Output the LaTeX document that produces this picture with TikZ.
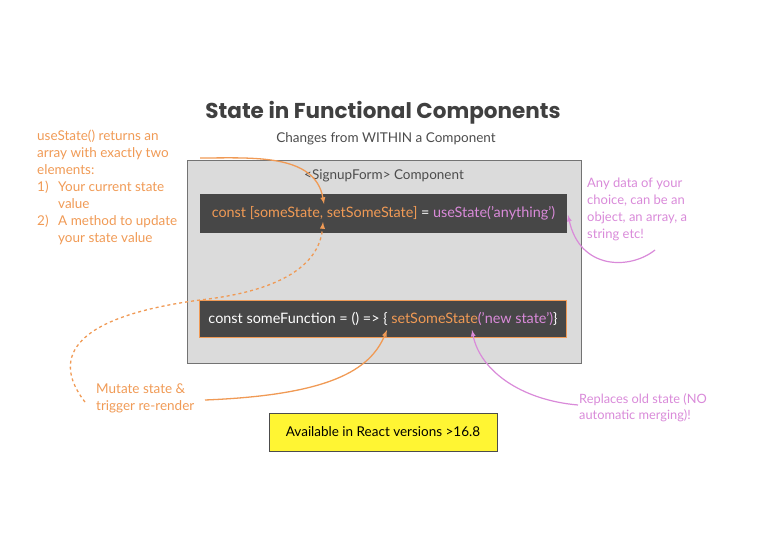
\documentclass[tikz,border=0pt]{standalone}
\usepackage{fontspec}
\setmainfont{Lato}
\newfontfamily\titlefont{Poppins}
\usetikzlibrary{positioning}
\definecolor{orn}{HTML}{F09A55}
\definecolor{pnk}{HTML}{D98AD9}
\definecolor{codebg}{HTML}{474747}
\newcommand\itemnum[1]{\makebox[21pt][l]{#1}}
\tikzset{
    note/.style={font=\fontsize{13.5}{17}\selectfont,align=left,inner sep=0pt,anchor=north west},
    codebox/.style={fill=codebg,minimum width=367pt,inner sep=0pt,font=\fontsize{14.4}{16}\selectfont},
    orarrow/.style={orn,line width=1.3pt,-latex},
    pkarrow/.style={pnk,line width=1.2pt,-latex}
}
\begin{document}
\begin{tikzpicture}[x=1pt,y=-1pt]
    \useasboundingbox (0,0) rectangle (768,543);
    % heading
    \node (title) at (383,113) {\titlefont\bfseries\fontsize{21.5}{24}\selectfont\color{black!75}State in Functional Components};
    \node (sub) at (386,139) {\fontsize{13.5}{16}\selectfont\color{black!70}Changes from WITHIN a Component};
    % component box
    \draw [black!55,fill=black!14] (187,160) rectangle (581,363);
    \node (comp) at (384,176) {\fontsize{13.5}{16}\selectfont\color{black!70}<SignupForm> Component};
    \node [codebox,minimum height=39pt] (line1) at (383.5,213.5)
        {\color{orn}const [someState, setSomeState] \color{white}= \color{pnk}useState('anything')};
    \node [codebox,minimum height=37pt,draw=orn,line width=1pt] (line2) at (383,318.5)
        {\color{white}const someFunction = () => \{ \color{orn}setSomeState\color{pnk}('new state')\color{white} \}};
    \node [draw=black!70,fill=yellow!80!white,minimum width=228pt,minimum height=38pt,font=\fontsize{13.5}{16}\selectfont] (ver) at (383,432)
        {Available in React versions >16.8};
    % notes
    \node [note,orn] (ret) at (37,130) {useState() returns an\\array with exactly two\\elements:\\\itemnum{1)}Your current state\\\itemnum{}value\\\itemnum{2)}A method to update\\\itemnum{}your state value};
    \node [note,pnk,font=\fontsize{13}{17}\selectfont] (data) at (587,178) {Any data of your\\choice, can be an\\object, an array, a\\string etc!};
    \node [note,orn] (mut) at (96,384) {Mutate state \&\\trigger re-render};
    \node [note,pnk,font=\fontsize{12.8}{16}\selectfont] (repl) at (579,393) {Replaces old state (NO\\automatic merging)!};
    % connectors
    \coordinate (retEnd) at (200,158);
    \coordinate (setIn) at (324,204);
    \coordinate (setOut) at (323,222);
    \coordinate (mutTop) at (85,402);
    \coordinate (mutRight) at (205,400);
    \coordinate (fnIn) at (387,330);
    \coordinate (dataLow) at (655,250);
    \coordinate (anyIn) at (568,215);
    \coordinate (replLeft) at (578,405);
    \coordinate (argIn) at (472,330);
    \draw [orarrow] (retEnd) to [out=0,in=100] (setIn);
    \draw [orarrow,dashed] (mutTop) .. controls (60,370) and (50,320) .. (200,300)
        .. controls (290,290) and (320,260) .. (setOut);
    \draw [orarrow] (mutRight) .. controls (330,395) and (370,370) .. (fnIn);
    \draw [pkarrow] (dataLow) .. controls (630,270) and (580,270) .. (anyIn);
    \draw [pkarrow] (replLeft) .. controls (520,400) and (480,370) .. (argIn);
\end{tikzpicture}
\end{document}
